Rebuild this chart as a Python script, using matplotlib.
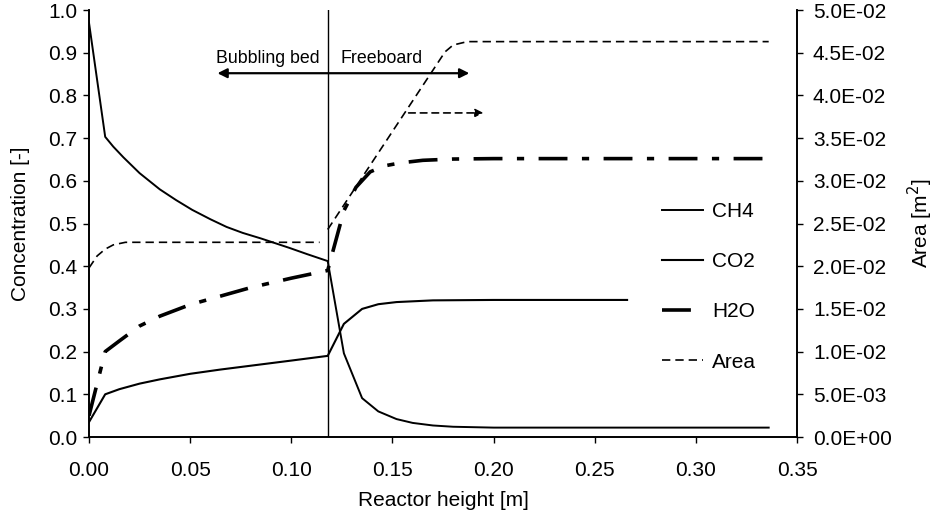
import numpy as np
import matplotlib
matplotlib.use("Agg")
import matplotlib.pyplot as plt
from matplotlib.ticker import FuncFormatter

plt.rcParams['font.family'] = ['Liberation Sans', 'DejaVu Sans']
FS = 15

# CH4
ch4_x = [0.0, 0.008, 0.012, 0.017, 0.025, 0.035, 0.043, 0.051, 0.06, 0.068,
         0.076, 0.085, 0.092, 0.099, 0.108, 0.118,
         0.126, 0.135, 0.143, 0.152, 0.16, 0.17, 0.18, 0.2, 0.336]
ch4_y = [0.97, 0.703, 0.68, 0.655, 0.618, 0.58, 0.555, 0.532, 0.51, 0.492,
         0.478, 0.465, 0.454, 0.443, 0.428, 0.412,
         0.196, 0.091, 0.06, 0.042, 0.033, 0.027, 0.024, 0.022, 0.022]
# CO2
co2_x = [0.0, 0.008, 0.015, 0.025, 0.035, 0.05, 0.065, 0.08, 0.1, 0.118,
         0.126, 0.135, 0.143, 0.152, 0.17, 0.2, 0.266]
co2_y = [0.035, 0.10, 0.112, 0.125, 0.135, 0.148, 0.158, 0.167, 0.179, 0.19,
         0.265, 0.30, 0.311, 0.316, 0.32, 0.321, 0.321]
# H2O
h2o_x = [0.0, 0.008, 0.015, 0.025, 0.035, 0.05, 0.065, 0.08, 0.1, 0.118,
         0.126, 0.132, 0.139, 0.146, 0.154, 0.165, 0.18, 0.2, 0.336]
h2o_y = [0.05, 0.20, 0.225, 0.26, 0.283, 0.31, 0.33, 0.35, 0.372, 0.39,
         0.53, 0.585, 0.621, 0.635, 0.642, 0.648, 0.651, 0.652, 0.652]
# Area (right axis), bubbling bed and freeboard parts
area_bed_x = [0.0, 0.004, 0.008, 0.012, 0.018, 0.114]
area_bed_y = [0.0198, 0.0212, 0.0220, 0.0225, 0.0228, 0.0228]
area_fb_x = [0.118, 0.176, 0.180, 0.187, 0.336]
area_fb_y = [0.0243, 0.0451, 0.0459, 0.0463, 0.0463]

x_boundary = 0.118

fig = plt.figure(figsize=(9.36, 5.14), dpi=100)
ax = fig.add_axes([0.0951, 0.1498, 0.7564, 0.8307])
ax2 = ax.twinx()

l1, = ax.plot(ch4_x, ch4_y, color='black', lw=1.4, label='CH4')
l2, = ax.plot(co2_x, co2_y, color='black', lw=1.5, label='CO2')
l3, = ax.plot(h2o_x, h2o_y, color='black', lw=2.6, dashes=(8, 4, 2, 4), label='H2O')
l4, = ax2.plot(area_bed_x, area_bed_y, color='black', lw=1.2, dashes=(5, 3), label='Area')
ax2.plot(area_fb_x, area_fb_y, color='black', lw=1.2, dashes=(5, 3))

ax.axvline(x_boundary, color='black', lw=1.0)

ax.annotate('', xy=(0.0635, 0.852), xytext=(0.188, 0.852),
            arrowprops=dict(arrowstyle='<|-|>', color='black', lw=1.6,
                            mutation_scale=14, shrinkA=0, shrinkB=0))
ax.annotate('', xy=(0.195, 0.759), xytext=(0.158, 0.759),
            arrowprops=dict(arrowstyle='-|>', color='black', lw=1.2,
                            linestyle=(0, (4, 3)), mutation_scale=12,
                            shrinkA=0, shrinkB=0))
ax.text(0.1142, 0.8876, 'Bubbling bed', ha='right', va='center', fontsize=12.8)
ax.text(0.1241, 0.8876, 'Freeboard', ha='left', va='center', fontsize=12.8)

ax.set_xlim(0, 0.35)
ax.set_ylim(0, 1.0)
ax2.set_ylim(0, 0.05)
ax.set_xticks(np.arange(0, 0.351, 0.05))
ax.set_yticks(np.arange(0, 1.01, 0.1))
ax2.set_yticks(np.arange(0, 0.0501, 0.005))
ax.xaxis.set_major_formatter(FuncFormatter(lambda v, p: '%.2f' % v))
ax.yaxis.set_major_formatter(FuncFormatter(lambda v, p: '%.1f' % v))

def sci(v, p):
    if abs(v) < 1e-12:
        return '0.0E+00'
    e = int(np.floor(np.log10(abs(v)) + 1e-9))
    m = v / 10 ** e
    return '%.1fE%s%02d' % (m, '-' if e < 0 else '+', abs(e))

ax2.yaxis.set_major_formatter(FuncFormatter(sci))

for a in (ax, ax2):
    a.spines['top'].set_visible(False)
    for s in a.spines.values():
        s.set_linewidth(1.2)
ax.tick_params(axis='x', direction='out', length=4.5, width=1, labelsize=FS, pad=13)
ax.tick_params(axis='y', direction='out', length=4.5, width=1, labelsize=FS, pad=4)
ax2.tick_params(axis='y', direction='out', length=4.5, width=1, labelsize=FS, pad=7)

ax.set_xlabel('Reactor height [m]', fontsize=FS, labelpad=8)
ax.set_ylabel('Concentration [-]', fontsize=FS, labelpad=13)
ax2.set_ylabel('Area [m$^2$]', fontsize=FS, labelpad=10)

leg = ax2.legend([l1, l2, l3, l4], ['CH4', 'CO2', 'H2O', 'Area'],
                 loc='center left', bbox_to_anchor=(0.809, 0.352),
                 frameon=False, fontsize=FS, handlelength=1.97,
                 labelspacing=1.5, handletextpad=0.43,
                 borderpad=0, borderaxespad=0)

fig.savefig('out.png', dpi=100)
